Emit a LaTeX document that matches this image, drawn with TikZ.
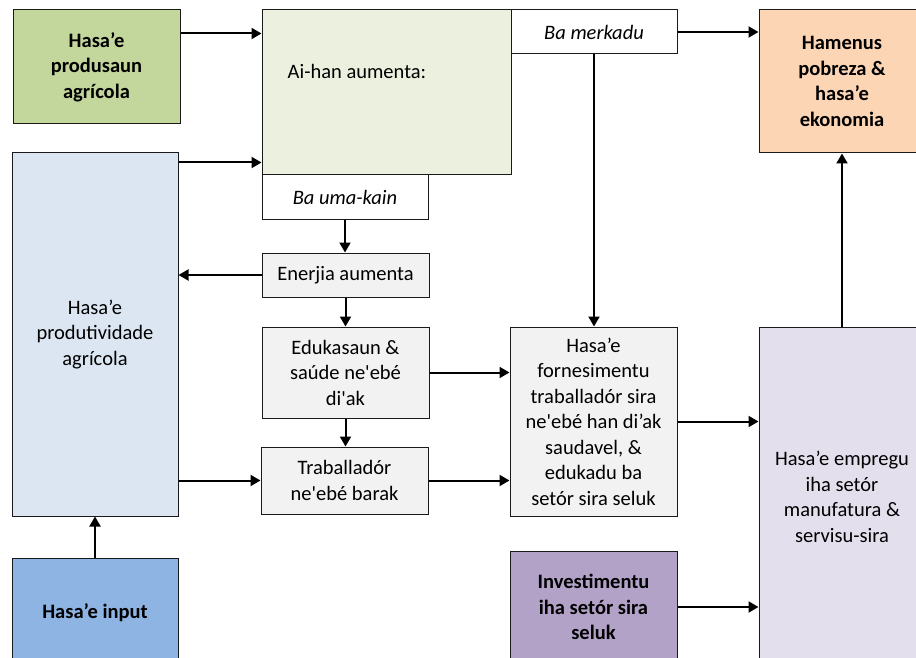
\documentclass[tikz,border=0pt]{standalone}
\usepackage{fontspec}
\setmainfont{Carlito}[Ligatures=TeXOff]
\usetikzlibrary{arrows.meta,positioning,calc}
\newcommand{\boxfont}{\fontsize{20.5}{25.5}\selectfont}
\definecolor{Ink}{HTML}{1A1A1A}
\definecolor{CropGreen}{HTML}{C3D69B}
\definecolor{FoodSoft}{HTML}{EBF1DE}
\definecolor{FieldSoft}{HTML}{DCE6F2}
\definecolor{InputBlue}{HTML}{8EB4E3}
\definecolor{Peach}{HTML}{FCD5B5}
\definecolor{Plum}{HTML}{B3A2C7}
\definecolor{PlumSoft}{HTML}{E4DFEC}
\definecolor{Panel}{HTML}{F2F2F2}
\tikzset{
  box/.style={draw=Ink,fill=Panel,line width=1pt,align=center,inner sep=0pt,minimum width=167pt,font=\boxfont},
  sidebox/.style={draw=Ink,fill=white,line width=1pt,align=center,inner sep=0pt,minimum width=166pt,minimum height=44pt,font=\boxfont\itshape},
  keybox/.style={draw=Ink,line width=1pt,align=center,inner sep=0pt,minimum width=166pt,font=\boxfont\bfseries},
  softbox/.style={draw=Ink,line width=1pt,align=center,inner sep=0pt,minimum width=166pt,font=\boxfont},
  flow/.style={-{Triangle[length=10pt,width=11pt]},draw=black,line width=2pt}
}
\begin{document}
\begin{tikzpicture}[x=1pt,y=-1pt,font=\boxfont]
  \useasboundingbox (0,0) rectangle (916,658);
  \clip (0,0) rectangle (916,658);
  \fill[white] (0,0) rectangle (916,658);

  % left column
  \node[keybox,fill=CropGreen,minimum width=167pt,minimum height=114pt] (prod) at (96.5,67) {Hasa’e\\produsaun\\agrícola};
  \node[softbox,fill=FieldSoft,minimum height=363pt] (field) at (95,334.5) {Hasa’e\\produtividade\\agrícola};
  \node[keybox,fill=InputBlue,minimum height=110pt] (input) at (95,613) {Hasa’e input};

  % food block
  \node[draw=Ink,fill=FoodSoft,line width=1pt,minimum width=249pt,minimum height=165pt] (food) at (386.5,92.5) {};
  \node[right,inner sep=0pt] (foodtxt) at ($(food.north west)+(26,62)$) {Ai-han aumenta:};
  \node[sidebox] (home) at (345,197) {Ba uma-kain};
  \node[sidebox] (market) at (594,32) {Ba merkadu};

  % middle column
  \node[box,minimum height=44pt] (energy) at (345.5,275) {Enerjia aumenta};
  \node[box,minimum height=91pt] (health) at (345.5,372.5) {Edukasaun \&\\saúde ne'ebé\\di'ak};
  \node[box,minimum height=67pt] (worker) at (344.5,480.5) {Traballadór\\ne'ebé barak};
  \node[box,minimum height=189pt] (labour) at (593.5,421.5) {Hasa’e\\fornesimentu\\traballadór sira\\ne'ebé han di’ak\\saudavel, \&\\edukadu ba\\setór sira seluk};
  \node[keybox,fill=Plum,minimum width=167pt,minimum height=112pt] (invest) at (593.5,607) {Investimentu\\iha setór sira\\seluk};

  % right column
  \node[keybox,fill=Peach,minimum height=143pt] (poverty) at (842,81.5) {Hamenus\\pobreza \&\\hasa’e\\ekonomia};
  \node[softbox,fill=PlumSoft,minimum height=340pt] (jobs) at (842,497) {Hasa’e empregu\\iha setór\\manufatura \&\\servisu-sira};

  % connectors
  \draw[flow] ($(prod.north east)+(0,24)$) coordinate (p1) -- (p1 -| food.west);
  \draw[flow] ($(field.north east)+(0,10)$) coordinate (p2) -- (p2 -| food.west);
  \draw[flow] (market.east) -- (market.east -| poverty.west);
  \draw[flow] (market.south) -- (market.south |- labour.north);
  \draw[flow] (home.south) -- (home.south |- energy.north);
  \draw[flow] (energy.west) -- (energy.west -| field.east);
  \draw[flow] (energy.south) -- (health.north);
  \draw[flow] (health.south) -- (health.south |- worker.north);
  \draw[flow] (health.east) -- (health.east -| labour.west);
  \draw[flow] (worker.west -| field.east) -- (worker.west);
  \draw[flow] (worker.east) -- (worker.east -| labour.west);
  \draw[flow] (labour.east) -- (labour.east -| jobs.west);
  \draw[flow] (invest.east) -- (invest.east -| jobs.west);
  \draw[flow] (jobs.north) -- (poverty.south);
  \draw[flow] (input.north) -- (field.south);
\end{tikzpicture}
\end{document}
